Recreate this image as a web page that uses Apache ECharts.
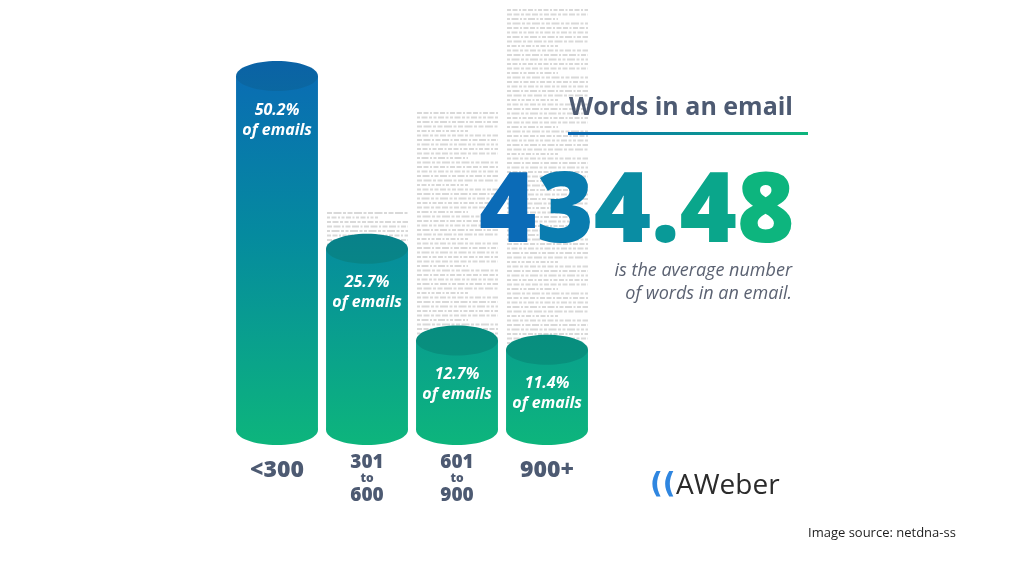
<!DOCTYPE html>
<html><head><meta charset="utf-8">
<script src="https://cdn.jsdelivr.net/npm/echarts@6/dist/echarts.min.js"></script>
<style>html,body{margin:0;padding:0;background:#fff}#c{width:1024px;height:576px}</style>
</head><body><div id="c"></div>
<script>
const categories = ['<300', '301\nto\n600', '601\nto\n900', '900+'];
const shares = [50.2, 25.7, 12.7, 11.4];
const barLabels = ['50.2%', '25.7%', '12.7%', '11.4%'];
const averageWords = '434.48';

const chart = echarts.init(document.getElementById('c'));
const G = echarts.graphic;
const bodyGrad = () => new G.LinearGradient(0, 60, 0, 445, [
  {offset: 0, color: '#0a6ab5'},
  {offset: 0.45, color: '#058a9f'},
  {offset: 1, color: '#0db57c'}
], true);
const capGrad = () => new G.LinearGradient(0, 60, 0, 445, [
  {offset: 0, color: '#0b62a6'},
  {offset: 0.45, color: '#08818a'},
  {offset: 1, color: '#089b74'}
], true);

// background "newspaper" texture columns (decoration)
const texture = [];
const cols = [[327, 408, 213], [417, 498, 113], [507, 588, 10]];
cols.forEach((c, ci) => {
  for (let y = c[2]; y < 360; y += 4.5) {
    const k = Math.floor(y / 4.5) + ci * 7;
    texture.push({
      type: 'line', z: 0, silent: true,
      shape: {x1: c[0], y1: y, x2: c[1] - ((k % 6 === 0) ? 30 : 0), y2: y},
      style: {stroke: '#d9d9d9', lineWidth: 2, lineDash: [3 + (k % 3), 1.5, 5 + (k % 4), 1.5, 2 + (k % 2), 1.5]}
    });
  }
});

// per-character colours across the big number (blue → green)
const numColors = ['#0b6bb7', '#0a7caf', '#0a8da3', '#099a98', '#0aa68b', '#0db57e'];
const numChars = averageWords.split('');
const numRich = {};
numChars.forEach((ch, i) => {
  numRich['c' + i] = {font: '800 98px "Open Sans"', fill: numColors[i]};
});
const numText = numChars.map((ch, i) => '{c' + i + '|' + ch + '}').join('');

chart.setOption({
  animation: false,
  grid: {left: 232, width: 360, top: 7, height: 423},
  xAxis: {
    type: 'category', data: categories,
    axisLine: {show: false}, axisTick: {show: false},
    axisLabel: {
      margin: 23,
      formatter: v => {
        const p = v.split('\n');
        if (p.length === 1) return '{s|' + v + '}';
        return '{a|' + p[0] + '}\n{b|' + p[1] + '}\n{a|' + p[2] + '}';
      },
      rich: {
        s: {fontFamily: 'Open Sans', fontWeight: 800, fontSize: 23, color: '#4d5a72', padding: [6, 0, 0, 0]},
        a: {fontFamily: 'Open Sans', fontWeight: 800, fontSize: 19, color: '#4d5a72', lineHeight: 19},
        b: {fontFamily: 'Open Sans', fontWeight: 800, fontSize: 12, color: '#4d5a72', lineHeight: 14}
      }
    }
  },
  yAxis: {type: 'value', min: 0, max: 60, show: false},
  series: [{
    type: 'custom', z: 5,
    data: shares.map((v, i) => [i, v]),
    renderItem: (params, api) => {
      const top = api.coord([api.value(0), api.value(1)]);
      const base = api.coord([api.value(0), 0]);
      const w = api.size([1, 0])[0] * 0.91;
      const rx = w / 2, ry = 15;
      const cx = top[0];
      const lbl = barLabels[params.dataIndex];
      return {
        type: 'group',
        children: [
          {type: 'rect', shape: {x: cx - rx, y: top[1], width: w, height: base[1] - top[1]}, style: {fill: bodyGrad()}},
          {type: 'ellipse', shape: {cx: cx, cy: base[1], rx: rx, ry: ry}, style: {fill: bodyGrad()}},
          {type: 'ellipse', shape: {cx: cx, cy: top[1], rx: rx, ry: ry}, style: {fill: capGrad()}},
          {type: 'text', x: cx, y: top[1] + 34, style: {text: lbl, fill: '#fff', font: 'italic 700 16px "Open Sans"', textAlign: 'center', textVerticalAlign: 'middle'}},
          {type: 'text', x: cx, y: top[1] + 54, style: {text: 'of emails', fill: '#fff', font: 'italic 700 16px "Open Sans"', textAlign: 'center', textVerticalAlign: 'middle'}}
        ]
      };
    }
  }],
  graphic: texture.concat([
    {type: 'text', z: 10, left: 569, top: 95, style: {text: 'Words in an email', fill: '#4d5a72', font: '700 25px "Open Sans"'}},
    {type: 'rect', z: 10, shape: {x: 568, y: 132, width: 240, height: 3},
      style: {fill: new G.LinearGradient(0, 0, 1, 0, [{offset: 0, color: '#0a68b4'}, {offset: 1, color: '#0db57c'}])}},
    {type: 'text', z: 10, x: 479, y: 263, style: {text: numText, rich: numRich, font: '800 98px "Open Sans"', textVerticalAlign: 'bottom'}},
    {type: 'text', z: 10, x: 792, y: 271, style: {text: 'is the average number', font: 'italic 400 18px "Open Sans"', fill: '#5b6272', textAlign: 'right', textVerticalAlign: 'middle'}},
    {type: 'text', z: 10, x: 792, y: 294, style: {text: 'of words in an email.', font: 'italic 400 18px "Open Sans"', fill: '#5b6272', textAlign: 'right', textVerticalAlign: 'middle'}},
    {type: 'text', z: 10, x: 650, y: 486, style: {text: '((', font: '900 28px "DejaVu Sans"', fill: '#2f86e0', textVerticalAlign: 'middle', letterSpacing: -4}},
    {type: 'text', z: 10, x: 676, y: 486, style: {text: 'AWeber', font: '500 28px "Open Sans"', fill: '#2b2b2b', textVerticalAlign: 'middle', letterSpacing: -1.5}},
    {type: 'text', z: 10, x: 808, y: 533, style: {text: 'Image source: netdna-ss', font: '500 13px "Open Sans"', fill: '#1e1e1e', textVerticalAlign: 'middle'}}
  ])
});
</script></body></html>
